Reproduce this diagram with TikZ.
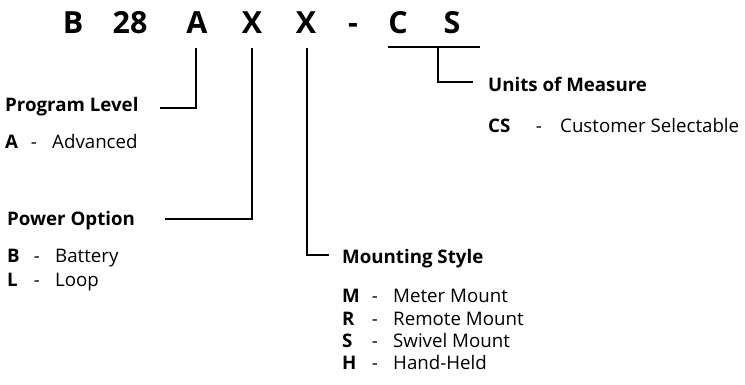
\documentclass[tikz,border=0pt]{standalone}
\usepackage{fontspec}
\setmainfont{Open Sans}
\begin{document}
\begin{tikzpicture}[x=1pt,y=-1pt,
  title/.style={font=\fontsize{30.5}{32}\selectfont\bfseries, anchor=base, inner sep=0pt},
  head/.style={font=\fontsize{18.7}{20}\selectfont\bfseries, anchor=base west, inner sep=0pt},
  key/.style={font=\fontsize{18.7}{20}\selectfont\bfseries, anchor=base west, inner sep=0pt},
  dashsym/.style={font=\fontsize{18.7}{20}\selectfont, anchor=base, inner sep=0pt},
  txt/.style={font=\fontsize{18.7}{20}\selectfont, anchor=base west, inner sep=0pt},
  conn/.style={line width=1.4pt}]
\useasboundingbox (0,0) rectangle (745,384);
% title
\node[title] (tB) at (73,33) {B};
\node[title] (t28) at (130,33) {28};
\node[title] (tA) at (197,33) {A};
\node[title] (tX1) at (252,33) {X};
\node[title] (tX2) at (306,33) {X};
\node[title] (tdash) at (353,33) {-};
\node[title] (tC) at (398,33) {C};
\node[title] (tS) at (452,33) {S};
% Program level
\node[head] (pl) at (5,111) {Program Level};
\node[key] (plA) at (5,148) {A};
\node[dashsym] (plAd) at (34,148) {-};
\node[txt] (plAt) at (52,148) {Advanced};
% Power option
\node[head] (po) at (7,225) {Power Option};
\node[key] (poB) at (7,262) {B};
\node[dashsym] (poBd) at (37,262) {-};
\node[txt] (poBt) at (55,262) {Battery};
\node[key] (poL) at (7,286) {L};
\node[dashsym] (poLd) at (37,286) {-};
\node[txt] (poLt) at (55,286) {Loop};
% Mounting style
\node[head] (ms) at (342,263) {Mounting Style};
\node[key] (msM) at (342,302) {M};
\node[dashsym] (msMd) at (375,302) {-};
\node[txt] (msMt) at (393,302) {Meter Mount};
\node[key] (msR) at (342,325) {R};
\node[dashsym] (msRd) at (375,325) {-};
\node[txt] (msRt) at (393,325) {Remote Mount};
\node[key] (msS) at (342,347) {S};
\node[dashsym] (msSd) at (375,347) {-};
\node[txt] (msSt) at (393,347) {Swivel Mount};
\node[key] (msH) at (342,369) {H};
\node[dashsym] (msHd) at (375,369) {-};
\node[txt] (msHt) at (393,369) {Hand-Held};
% Units of measure
\node[head] (um) at (488,91) {Units of Measure};
\node[key] (umCS) at (488,132) {CS};
\node[dashsym] (umCSd) at (539,132) {-};
\node[txt] (umCSt) at (560,132) {Customer Selectable};
% connector end points
\coordinate (jA) at (196,48);
\coordinate (eA) at (160,108);
\coordinate (jX1) at (252,48);
\coordinate (eX1) at (165,219);
\coordinate (jX2) at (307,48);
\coordinate (eX2) at (329,255);
\coordinate (cL) at (388,47);
\coordinate (cR) at (480,47);
\coordinate (jCS) at (438,47);
\coordinate (eCS) at (473,82);
% connectors
\draw[conn] (jA) |- (eA);
\draw[conn] (jX1) |- (eX1);
\draw[conn] (jX2) |- (eX2);
\draw[conn] (cL) -- (cR);
\draw[conn] (jCS) |- (eCS);
\end{tikzpicture}
\end{document}
